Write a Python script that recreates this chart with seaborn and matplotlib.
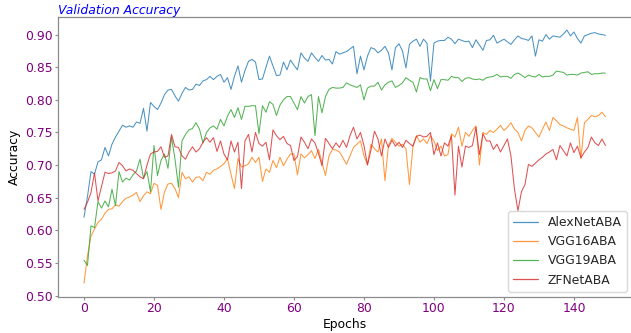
import numpy as np
import pandas as pd
import matplotlib
matplotlib.use("Agg")
import matplotlib.pyplot as plt
import seaborn as sns

models = ["AlexNetABA", "VGG16ABA", "VGG19ABA", "ZFNetABA"]
colors = ["#1f77b4", "#ff7f0e", "#2ca02c", "#d62728"]

alexnet = [
    0.620, 0.652, 0.690, 0.686, 0.705, 0.708, 0.727, 0.714, 0.732, 0.743,
    0.752, 0.761, 0.758, 0.760, 0.758, 0.766, 0.764, 0.787, 0.752, 0.796,
    0.790, 0.785, 0.795, 0.808, 0.815, 0.816, 0.806, 0.798, 0.810, 0.819,
    0.815, 0.816, 0.824, 0.822, 0.829, 0.831, 0.836, 0.831, 0.836, 0.839,
    0.827, 0.834, 0.816, 0.836, 0.852, 0.827, 0.845, 0.859, 0.862, 0.858,
    0.831, 0.832, 0.850, 0.867, 0.852, 0.837, 0.838, 0.858, 0.846, 0.861,
    0.853, 0.846, 0.872, 0.864, 0.859, 0.872, 0.865, 0.859, 0.868, 0.861,
    0.862, 0.855, 0.874, 0.870, 0.872, 0.874, 0.878, 0.882, 0.840, 0.867,
    0.846, 0.867, 0.880, 0.878, 0.872, 0.876, 0.882, 0.872, 0.846, 0.880,
    0.886, 0.875, 0.849, 0.885, 0.890, 0.893, 0.882, 0.893, 0.887, 0.829,
    0.887, 0.890, 0.891, 0.891, 0.896, 0.893, 0.886, 0.893, 0.891, 0.889,
    0.890, 0.880, 0.892, 0.884, 0.876, 0.891, 0.892, 0.899, 0.887, 0.890,
    0.893, 0.889, 0.885, 0.892, 0.898, 0.894, 0.893, 0.891, 0.898, 0.867,
    0.892, 0.890, 0.900, 0.893, 0.898, 0.897, 0.896, 0.901, 0.907, 0.898,
    0.904, 0.894, 0.887, 0.898, 0.900, 0.902, 0.903, 0.901, 0.900, 0.899,
]

vgg16 = [
    0.519, 0.561, 0.591, 0.602, 0.612, 0.617, 0.626, 0.632, 0.633, 0.639,
    0.637, 0.644, 0.649, 0.651, 0.654, 0.658, 0.644, 0.653, 0.659, 0.656,
    0.672, 0.669, 0.632, 0.659, 0.671, 0.672, 0.664, 0.650, 0.689, 0.679,
    0.682, 0.674, 0.681, 0.682, 0.676, 0.689, 0.686, 0.692, 0.694, 0.698,
    0.702, 0.710, 0.686, 0.664, 0.710, 0.697, 0.699, 0.702, 0.712, 0.704,
    0.712, 0.675, 0.694, 0.689, 0.707, 0.696, 0.712, 0.699, 0.709, 0.717,
    0.717, 0.685, 0.717, 0.711, 0.716, 0.722, 0.710, 0.724, 0.704, 0.684,
    0.714, 0.724, 0.723, 0.720, 0.711, 0.701, 0.714, 0.727, 0.732, 0.737,
    0.714, 0.701, 0.732, 0.725, 0.720, 0.740, 0.676, 0.730, 0.741, 0.735,
    0.729, 0.732, 0.725, 0.670, 0.729, 0.745, 0.735, 0.740, 0.733, 0.745,
    0.737, 0.722, 0.729, 0.714, 0.716, 0.748, 0.743, 0.758, 0.729, 0.750,
    0.744, 0.753, 0.760, 0.700, 0.750, 0.747, 0.753, 0.750, 0.755, 0.761,
    0.753, 0.758, 0.765, 0.755, 0.750, 0.737, 0.753, 0.760, 0.757, 0.750,
    0.743, 0.755, 0.766, 0.753, 0.773, 0.768, 0.762, 0.760, 0.757, 0.755,
    0.753, 0.773, 0.710, 0.765, 0.770, 0.776, 0.774, 0.776, 0.781, 0.774,
]

vgg19 = [
    0.554, 0.546, 0.607, 0.604, 0.644, 0.634, 0.645, 0.636, 0.663, 0.638,
    0.690, 0.674, 0.680, 0.677, 0.685, 0.691, 0.709, 0.680, 0.690, 0.659,
    0.730, 0.684, 0.707, 0.717, 0.695, 0.743, 0.709, 0.666, 0.737, 0.747,
    0.754, 0.756, 0.765, 0.755, 0.734, 0.750, 0.757, 0.760, 0.755, 0.770,
    0.760, 0.775, 0.785, 0.773, 0.788, 0.770, 0.790, 0.790, 0.791, 0.791,
    0.748, 0.791, 0.781, 0.797, 0.793, 0.776, 0.792, 0.800, 0.805, 0.805,
    0.795, 0.785, 0.805, 0.795, 0.805, 0.808, 0.745, 0.805, 0.780, 0.805,
    0.816, 0.819, 0.818, 0.818, 0.819, 0.826, 0.823, 0.821, 0.819, 0.823,
    0.800, 0.818, 0.821, 0.821, 0.827, 0.815, 0.823, 0.827, 0.829, 0.819,
    0.822, 0.826, 0.834, 0.830, 0.827, 0.812, 0.834, 0.832, 0.832, 0.814,
    0.831, 0.817, 0.831, 0.831, 0.830, 0.836, 0.834, 0.834, 0.828, 0.833,
    0.834, 0.832, 0.831, 0.832, 0.830, 0.834, 0.835, 0.836, 0.839, 0.835,
    0.836, 0.836, 0.833, 0.839, 0.841, 0.838, 0.834, 0.838, 0.836, 0.835,
    0.839, 0.835, 0.836, 0.836, 0.838, 0.844, 0.843, 0.842, 0.838, 0.839,
    0.839, 0.838, 0.841, 0.842, 0.843, 0.839, 0.840, 0.840, 0.841, 0.841,
]

zfnet = [
    0.632, 0.643, 0.658, 0.688, 0.645, 0.667, 0.689, 0.687, 0.688, 0.691,
    0.704, 0.699, 0.691, 0.694, 0.692, 0.687, 0.682, 0.679, 0.700, 0.717,
    0.720, 0.721, 0.728, 0.712, 0.714, 0.747, 0.728, 0.727, 0.714, 0.709,
    0.720, 0.728, 0.720, 0.725, 0.735, 0.742, 0.735, 0.742, 0.721, 0.737,
    0.717, 0.708, 0.737, 0.720, 0.735, 0.664, 0.737, 0.747, 0.720, 0.750,
    0.733, 0.729, 0.735, 0.708, 0.754, 0.745, 0.739, 0.744, 0.733, 0.730,
    0.707, 0.713, 0.743, 0.735, 0.725, 0.740, 0.734, 0.718, 0.699, 0.741,
    0.733, 0.725, 0.734, 0.727, 0.738, 0.727, 0.745, 0.758, 0.740, 0.750,
    0.730, 0.700, 0.723, 0.752, 0.740, 0.714, 0.740, 0.727, 0.738, 0.729,
    0.735, 0.727, 0.738, 0.733, 0.729, 0.744, 0.746, 0.743, 0.744, 0.750,
    0.716, 0.734, 0.714, 0.734, 0.729, 0.745, 0.654, 0.729, 0.697, 0.729,
    0.727, 0.730, 0.758, 0.716, 0.748, 0.737, 0.737, 0.724, 0.732, 0.720,
    0.730, 0.740, 0.714, 0.663, 0.630, 0.659, 0.670, 0.701, 0.698, 0.703,
    0.708, 0.712, 0.717, 0.720, 0.724, 0.708, 0.730, 0.722, 0.714, 0.734,
    0.719, 0.729, 0.711, 0.720, 0.727, 0.743, 0.734, 0.730, 0.740, 0.730,
]

series = [alexnet, vgg16, vgg19, zfnet]
epochs = np.arange(len(alexnet))

df = pd.concat(
    [pd.DataFrame({"Epochs": epochs, "Accuracy": vals, "Model": name})
     for name, vals in zip(models, series)],
    ignore_index=True,
)

sns.set_theme(style="ticks")
plt.rcParams["font.family"] = ["DejaVu Sans"]
fs = 8.9

fig = plt.figure(figsize=(6.31, 3.33), dpi=100)
ax = fig.add_axes([0.0918, 0.1096, 0.909, 0.8384])

sns.lineplot(data=df, x="Epochs", y="Accuracy", hue="Model",
             palette=colors, linewidth=0.75, alpha=0.8, ax=ax)

ax.set_yticks([0.50, 0.55, 0.60, 0.65, 0.70, 0.75, 0.80, 0.85, 0.90])
ax.set_xticks([0, 20, 40, 60, 80, 100, 120, 140])
ax.set_xlim(-7.45, 156.45)
ax.set_ylim(0.4985, 0.9265)
ax.yaxis.set_major_formatter(matplotlib.ticker.FormatStrFormatter("%.2f"))

for sp in ax.spines.values():
    sp.set_color("#8c8c8c")
    sp.set_linewidth(0.9)
ax.tick_params(axis="both", colors="#8c8c8c", length=2, width=0.8, pad=2,
               labelcolor="purple", labelsize=fs)

ax.set_xlabel("Epochs", fontsize=fs, color="black", labelpad=2)
ax.set_ylabel("Accuracy", fontsize=fs, color="black", labelpad=2.5)
ax.set_title("Validation Accuracy", loc="left", fontsize=fs,
             color="blue", style="italic", pad=2)

leg = ax.legend(loc="lower right", fontsize=fs, frameon=True,
                borderaxespad=0.4)
leg.get_frame().set_edgecolor("#d0d0d0")
for line in leg.get_lines():
    line.set_linewidth(0.9)

fig.savefig("out.png", dpi=100)
